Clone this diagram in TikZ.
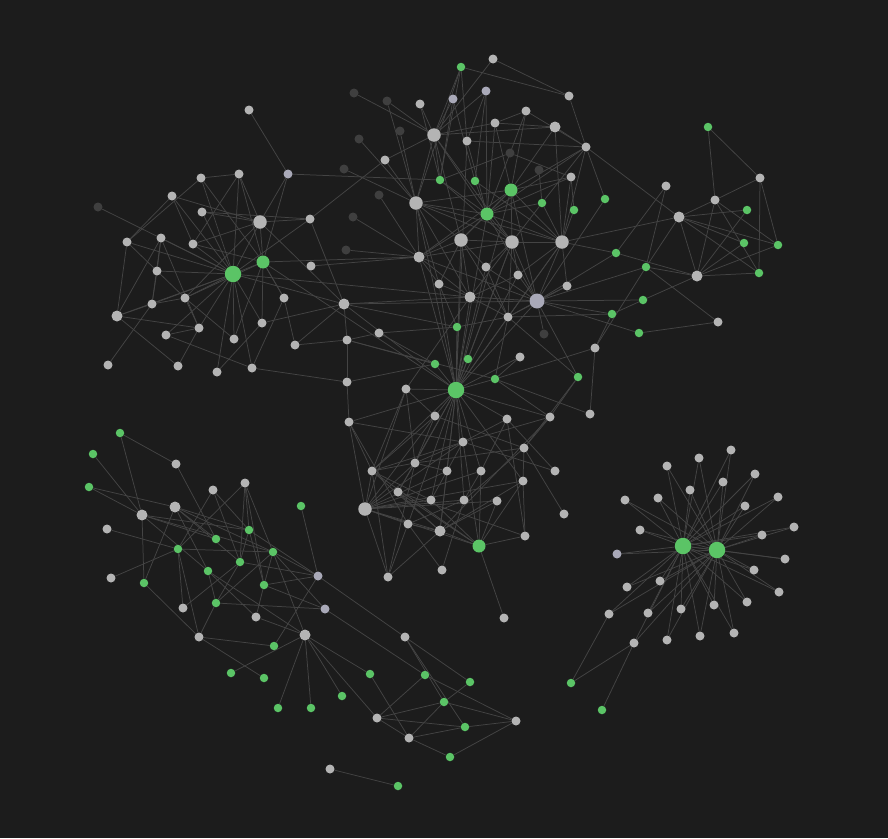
\documentclass[tikz,border=0pt]{standalone}
\usetikzlibrary{backgrounds}

\definecolor{canvas}{HTML}{1C1C1C}
\definecolor{link}{HTML}{444444}
\definecolor{plain}{HTML}{B4B4B4}
\definecolor{lilac}{HTML}{A9A9B8}
\definecolor{faint}{HTML}{3F3F3F}
\definecolor{leaf}{HTML}{5BC466}

\pgfdeclarelayer{edges}
\pgfsetlayers{background,edges,main}

\tikzset{
  gdot/.style={circle,fill=plain,inner sep=0pt,minimum size=9pt},
  hdot/.style={gdot,minimum size=13.5pt},
  mdot/.style={gdot,minimum size=11pt},
  ldot/.style={gdot,fill=lilac},
  hlav/.style={ldot,minimum size=15pt},
  ddot/.style={gdot,fill=faint},
  gtag/.style={gdot,fill=leaf,minimum size=8.5pt},
  mtag/.style={gtag,minimum size=13pt},
  htag/.style={gtag,minimum size=16.5pt},
  wire/.style={draw=link,line width=0.75pt}
}

\begin{document}
\begin{tikzpicture}[x=1pt,y=-1pt]
\begin{pgfonlayer}{background}
\fill[canvas] (0,0) rectangle (888,838);
\end{pgfonlayer}
\useasboundingbox (0,0) rectangle (888,838);

% upper middle cluster
\foreach \n/\x/\y/\k in {t1/461/67/gtag,t2/493/59/gdot,t3/569/96/gdot,t4/486/91/ldot,t5/453/99/ldot,
  t6/420/104/gdot,t7/387/101/ddot,t8/354/93/ddot,t9/434/135/hdot,t10/467/141/gdot,t11/495/123/gdot,
  t12/526/111/gdot,t13/555/127/mdot,t14/586/147/gdot,t15/510/153/ddot,t16/539/170/ddot,t17/400/131/ddot,
  t18/359/139/ddot,t19/385/160/gdot,t20/344/169/ddot,t21/379/195/ddot,t22/353/217/ddot,t23/346/250/ddot,
  t24/416/203/hdot,t25/440/180/gtag,t26/475/181/gtag,t27/511/190/mtag,t28/487/214/mtag,t29/542/203/gtag,
  t30/571/177/gdot,t31/574/210/gtag,t32/605/199/gtag,t33/461/240/hdot,t34/512/242/hdot,t35/562/242/hdot,
  t36/419/257/mdot,t37/486/267/gdot,t38/518/275/gdot,t39/439/284/gdot,t40/470/297/mdot,t41/537/301/hlav,
  t42/567/286/gdot,t43/508/317/gdot,t44/544/334/ddot,t45/616/253/gtag,t46/646/267/gtag,t47/643/300/gtag,
  t48/612/314/gtag,t49/639/333/gtag,t50/457/327/gtag,t51/468/359/gtag,t52/435/364/gtag,t53/495/379/gtag,
  t54/520/357/gdot,t55/578/377/gtag,t56/595/348/gdot,t57/590/414/gdot,t58/456/390/htag,t59/406/389/gdot,
  t60/347/382/gdot,t61/347/340/gdot,t62/344/304/mdot,t63/379/333/gdot,t64/311/266/gdot,t65/310/219/gdot,
  t66/288/174/ldot,t67/249/110/gdot}
  \node[\k] (\n) at (\x,\y) {};

% upper right cluster
\foreach \n/\x/\y/\k in {r1/708/127/gtag,r2/760/178/gdot,r3/715/200/gdot,r4/679/217/mdot,r5/666/186/gdot,
  r6/747/210/gtag,r7/744/243/gtag,r8/778/245/gtag,r9/759/273/gtag,r10/697/276/mdot,r11/718/322/gdot}
  \node[\k] (\n) at (\x,\y) {};

% upper left cluster
\foreach \n/\x/\y/\k in {l1/98/207/ddot,l2/172/196/gdot,l3/201/178/gdot,l4/239/174/gdot,l5/202/212/gdot,
  l6/260/222/hdot,l7/161/238/gdot,l8/127/242/gdot,l9/193/244/gdot,l10/157/271/gdot,l11/233/274/htag,
  l12/263/262/mtag,l13/185/298/gdot,l14/152/304/gdot,l15/117/316/mdot,l16/284/298/gdot,l17/199/328/gdot,
  l18/166/335/gdot,l19/262/323/gdot,l20/234/339/gdot,l21/295/345/gdot,l22/108/365/gdot,l23/178/366/gdot,
  l24/217/372/gdot,l25/252/368/gdot}
  \node[\k] (\n) at (\x,\y) {};

% lower middle cluster
\foreach \n/\x/\y/\k in {m1/349/422/gdot,m2/435/416/gdot,m3/507/419/gdot,m4/550/417/gdot,m5/463/442/gdot,
  m6/524/448/gdot,m7/372/471/gdot,m8/415/463/gdot,m9/447/471/gdot,m10/481/471/gdot,m11/555/471/gdot,
  m12/398/492/gdot,m13/431/500/gdot,m14/464/500/gdot,m15/497/501/gdot,m16/523/481/gdot,m17/365/509/hdot,
  m18/408/524/gdot,m19/440/531/mdot,m20/479/546/mtag,m21/525/536/gdot,m22/564/514/gdot,m23/388/577/gdot,
  m24/442/570/gdot,m25/504/618/gdot}
  \node[\k] (\n) at (\x,\y) {};

% twin star
\foreach \n/\x/\y/\k in {s1/683/546/htag,s2/717/550/htag,s3/667/466/gdot,s4/699/458/gdot,s5/731/450/gdot,
  s6/755/474/gdot,s7/723/482/gdot,s8/690/490/gdot,s9/658/498/gdot,s10/625/500/gdot,s11/778/497/gdot,
  s12/745/506/gdot,s13/794/527/gdot,s14/762/535/gdot,s15/640/530/gdot,s16/617/554/ldot,s17/785/559/gdot,
  s18/754/570/gdot,s19/660/581/gdot,s20/627/587/gdot,s21/779/592/gdot,s22/747/602/gdot,s23/714/605/gdot,
  s24/681/609/gdot,s25/648/613/gdot,s26/609/614/gdot,s27/734/633/gdot,s28/700/636/gdot,s29/667/640/gdot,
  s30/634/643/gdot,s31/571/683/gtag,s32/602/710/gtag}
  \node[\k] (\n) at (\x,\y) {};

% lower left cluster
\foreach \n/\x/\y/\k in {w1/120/433/gtag,w2/93/454/gtag,w3/89/487/gtag,w4/176/464/gdot,w5/213/490/gdot,
  w6/245/483/gdot,w7/142/515/mdot,w8/175/507/mdot,w9/107/529/gdot,w10/249/530/gtag,w11/216/539/gtag,
  w12/178/549/gtag,w13/273/552/gtag,w14/301/506/gtag,w15/240/562/gtag,w16/208/571/gtag,w17/264/585/gtag,
  w18/111/578/gdot,w19/144/583/gtag,w20/318/576/ldot,w21/216/603/gtag,w22/183/608/gdot,w23/256/617/gdot,
  w24/325/609/ldot,w25/199/637/gdot,w26/305/635/mdot,w27/274/646/gtag}
  \node[\k] (\n) at (\x,\y) {};

% bottom strand
\foreach \n/\x/\y/\k in {b1/231/673/gtag,b2/264/678/gtag,b3/278/708/gtag,b4/311/708/gtag,b5/342/696/gtag,
  b6/370/674/gtag,b7/405/637/gdot,b8/425/675/gtag,b9/470/682/gtag,b10/444/702/gtag,b11/377/718/gdot,
  b12/409/738/gdot,b13/465/727/gtag,b14/516/721/gdot,b15/450/757/gtag,b16/330/769/gdot,b17/398/786/gtag}
  \node[\k] (\n) at (\x,\y) {};

\begin{pgfonlayer}{edges}
% upper middle links
\foreach \a/\b in {t1/t3,t2/t3,t1/t9,t1/t10,t1/t25,t1/t24,t2/t9,t3/t14,t8/t9,t7/t24,t7/t9,t6/t9,t6/t25,
  t5/t9,t5/t25,t5/t26,t4/t9,t4/t10,t4/t26,t4/t28,t12/t11,t12/t14,t12/t27,t12/t28,t11/t9,t11/t13,t11/t27,
  t11/t28,t13/t9,t13/t14,t13/t27,t13/t35,t9/t24,t9/t25,t9/t28,t9/t34,t9/t19,t9/t33,t10/t28,t10/t14,
  t14/t27,t14/t29,t14/t32,t14/t35,t14/t28,t14/r4,t15/t25,t15/t30,t19/t24,t19/t65,t20/t24,t16/t29,
  t30/t35,t30/t27,t30/t28,t30/t31,t21/t36,t22/t36,t23/t36,t24/t36,t24/t28,t24/t27,t24/t33,t24/t34,
  t24/t35,t25/t28,t25/t34,t26/t28,t26/t35,t27/t28,t27/t34,t27/t33,t27/t35,t27/t36,t29/t34,t29/t35,
  t29/t28,t31/t35,t32/t41,t28/t33,t28/t34,t28/t35,t28/t36,t33/t34,t33/t36,t34/t35,t34/t36,t35/t45,
  t35/r4,t17/t24,t18/t24,t66/t67,t66/t25,t65/t62,t64/t36,t62/t40,t62/t50,t62/t61,t62/t58,t62/t41,
  t61/t63,t61/t60,t61/t53,t63/t50,t63/t52,t61/t52,t60/t52,t60/m1,t59/m2,t59/t40,t59/m7,t59/m8,
  t41/t48,t41/t45,t41/t42,t41/t43,t41/t40,t41/t58,t41/t55,t41/t44,t48/t56,t56/t57,t56/t53,t55/t43,
  t55/m6,t54/t58,t54/t53,t43/t58,t43/t50,t57/t53,t46/t41,t47/t41,t49/t41,t46/t56,t51/t58,t51/t34,
  t50/t58,t53/t58,t53/t43,t52/t58,t33/t37,t33/t39,t33/t40,t34/t37,t34/t38,t34/t41,t34/t40,t35/t38,
  t35/t41,t35/t42,t35/t43,t36/t39,t36/t40,t37/t41,t37/t43,t38/t41,t38/t40,t39/t40,t39/t58,t40/t58,
  t33/t58,t34/t58,t35/t58,t36/t58,t37/t58,t38/t58,t28/t58,t24/t58,t27/t41,t28/t41,t24/t40,t33/t43,
  t34/t43,t42/t43,t39/t50,t40/t43,t36/t41,t24/t39,t48/t43,t27/t58,t10/t58}
  \draw[wire] (\a) -- (\b);
% upper right links
\foreach \a/\b in {r1/r3,r1/r2,r2/r3,r2/r9,r2/r8,r3/r4,r3/r10,r3/r9,r3/r8,r4/r6,r4/r7,r4/r8,r4/r10,
  r4/r9,r4/t46,r5/t46,r5/t45,t45/r10,t46/r10,t46/r11,t47/r10,t47/t48,r10/r9,r10/r7,r10/r6,r10/r8,
  t49/r11}
  \draw[wire] (\a) -- (\b);
% upper left links
\foreach \a/\b in {l1/l11,l3/l4,l3/l8,l3/l11,l3/l12,l4/l11,l4/l12,l4/l9,l4/l6,t66/l6,t66/l12,l2/l6,
  l2/l8,l2/l9,l2/l11,l5/l6,l5/t65,l6/l11,l6/l9,l6/t65,l6/l12,l6/t62,l6/l13,t65/l11,l8/l11,l8/l15,
  l8/l13,l7/l10,l7/l14,l7/l11,l7/l17,l10/l11,l10/l14,l15/l14,l15/l11,l15/l17,l15/l7,l22/l14,l14/l11,
  l14/l13,l18/l11,l18/l17,l18/l25,l23/l15,l23/l17,l24/l11,l24/l19,l25/l11,l25/l16,l25/t60,l20/l11,
  l19/l11,l19/l12,l19/t62,l16/l12,l16/l21,l21/t62,l21/t61,l13/l11,l13/l17,l9/l11,l12/l11,l17/l11,
  l13/l20,l12/l20,l12/l13,l12/l16,l9/l12,l5/l11,l11/t40,l12/t58,l12/t36,l11/t62}
  \draw[wire] (\a) -- (\b);
% lower middle links
\foreach \a/\b in {m1/m17,m1/m7,m1/m5,m1/m18,m2/m7,m2/m17,m2/m8,m2/m6,m3/m5,m3/m10,m3/m21,m4/m5,
  m4/m19,m5/m8,m5/m9,m5/m20,m5/m11,m5/m17,m5/m7,m6/m14,m6/m16,m6/m22,m6/m8,m7/m17,m7/m8,m7/m13,
  m7/m20,m7/m19,m7/m23,m8/m17,m8/m12,m8/m9,m8/m23,m9/m13,m9/m19,m9/m17,m10/m20,m10/m14,m10/m17,
  m16/m17,m16/m19,m16/m20,m16/m21,m12/m20,m12/m19,m12/m21,m13/m17,m13/m20,m14/m17,m14/m18,m15/m20,
  m15/m19,m15/m17,m17/m18,m17/m19,m17/m20,m17/m23,m18/m24,m18/m23,m18/m19,m19/m20,m19/m23,m20/m21,
  m20/m25,m11/m3,m24/m14,t59/m17,m2/t58,m5/t58,m3/t58,m4/t53,m4/t55,m4/m6,m4/t58,m1/t58,t59/t58,
  t58/m7,t58/m8,t58/m9,t58/m10,t58/m12,t58/m13,t58/m14,t58/m16,t58/m18,t58/m19}
  \draw[wire] (\a) -- (\b);
% twin star links
\foreach \s in {3,...,30}
  {\draw[wire] (s\s) -- (s1); \draw[wire] (s\s) -- (s2);}
\foreach \a/\b in {s1/s2,s26/s31,s30/s31,s30/s32}
  \draw[wire] (\a) -- (\b);
% lower left links
\foreach \a/\b in {w1/w4,w1/w7,w2/w7,w3/w7,w3/w8,w4/w11,w6/w12,w6/w10,w6/w15,w6/w13,w6/w17,w5/w12,
  w5/w15,w5/w10,w8/w10,w8/w11,w8/w19,w8/w15,w8/w13,w8/w16,w7/w19,w7/w10,w7/w11,w7/w16,w7/w13,w9/w12,
  w14/w20,w10/w15,w10/w17,w10/w20,w12/w13,w12/w22,w12/w25,w12/w18,w13/w17,w13/w20,w13/w26,w13/w24,
  w13/w21,w15/w22,w15/w21,w15/w20,w16/w21,w16/w23,w16/w26,w17/w20,w17/w23,w17/w24,w19/w25,w20/w27,
  w20/b7,w21/w25,w21/w24,w23/w26,w25/w27,w25/b2,w24/b8}
  \draw[wire] (\a) -- (\b);
% bottom links
\foreach \a/\b in {w26/b1,w26/b3,w26/b4,w26/b5,w26/b11,w26/b6,b7/b9,b7/b10,b7/b13,b8/b11,b8/b14,
  b6/b12,b9/b10,b10/b11,b10/b12,b10/b14,b11/b12,b11/b13,b12/b13,b12/b15,b13/b14,b15/b14,b16/b17}
  \draw[wire] (\a) -- (\b);
\end{pgfonlayer}
\end{tikzpicture}
\end{document}
